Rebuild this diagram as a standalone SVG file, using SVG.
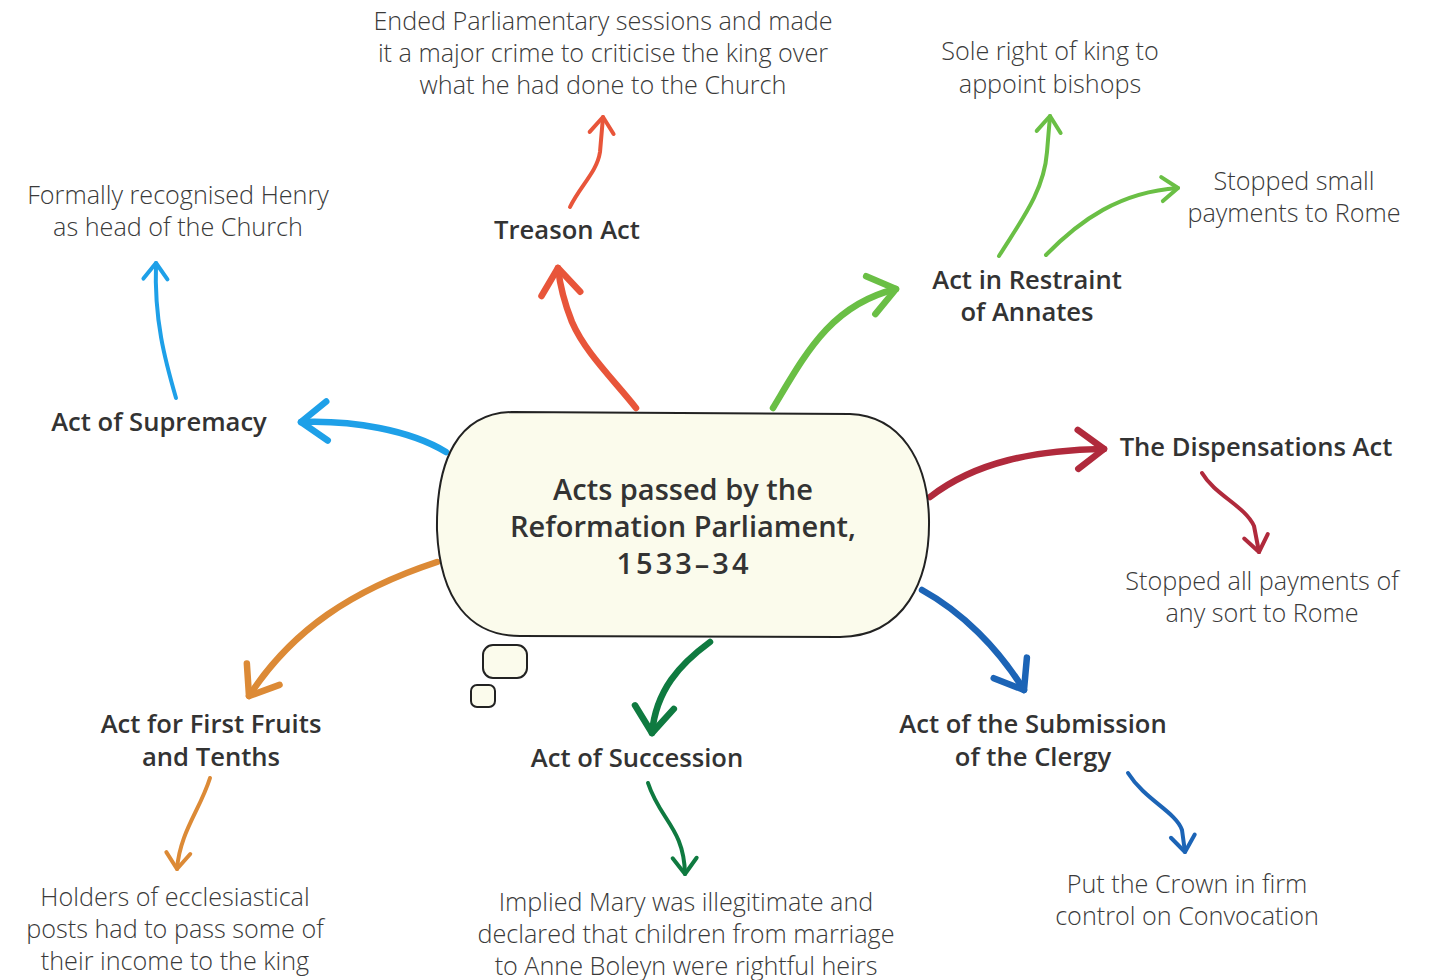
<svg xmlns="http://www.w3.org/2000/svg" width="1432" height="980" viewBox="0 0 1432 980">
  <style>
    .label { font-family: "Open Sans", "Liberation Sans", sans-serif; font-weight: 600; font-size: 25.6px; fill: #333; text-anchor: middle; }
    .note { font-family: "Open Sans", "Liberation Sans", sans-serif; font-weight: 300; font-size: 25.2px; fill: #3a3a3a; text-anchor: middle; }
    .title { font-family: "Open Sans", "Liberation Sans", sans-serif; font-weight: 600; font-size: 29px; fill: #333; text-anchor: middle; }
    .bubble { fill: #fbfbec; stroke: #222; stroke-width: 2; }
    .main { fill: none; stroke-width: 6.5; stroke-linecap: round; stroke-linejoin: round; }
    .sub { fill: none; stroke-width: 4; stroke-linecap: round; stroke-linejoin: round; }
    .head { fill: none; stroke-width: 1; stroke-linecap: round; stroke-linejoin: round; }
  </style>
  <defs>
    <marker id="h-red" markerUnits="strokeWidth" markerWidth="8" markerHeight="8" refX="0" refY="0" orient="auto" overflow="visible"><path class="head" d="M-4,-3 L0,0 L-4,3" stroke="#e8553a"/></marker>
    <marker id="h-lime" markerUnits="strokeWidth" markerWidth="8" markerHeight="8" refX="0" refY="0" orient="auto" overflow="visible"><path class="head" d="M-4,-3 L0,0 L-4,3" stroke="#6abf45"/></marker>
    <marker id="h-wine" markerUnits="strokeWidth" markerWidth="8" markerHeight="8" refX="0" refY="0" orient="auto" overflow="visible"><path class="head" d="M-4,-3 L0,0 L-4,3" stroke="#b02a3c"/></marker>
    <marker id="h-blue" markerUnits="strokeWidth" markerWidth="8" markerHeight="8" refX="0" refY="0" orient="auto" overflow="visible"><path class="head" d="M-4,-3 L0,0 L-4,3" stroke="#1c64b6"/></marker>
    <marker id="h-green" markerUnits="strokeWidth" markerWidth="8" markerHeight="8" refX="0" refY="0" orient="auto" overflow="visible"><path class="head" d="M-4,-3 L0,0 L-4,3" stroke="#0f7a40"/></marker>
    <marker id="h-orange" markerUnits="strokeWidth" markerWidth="8" markerHeight="8" refX="0" refY="0" orient="auto" overflow="visible"><path class="head" d="M-4,-3 L0,0 L-4,3" stroke="#dc8a36"/></marker>
    <marker id="h-sky" markerUnits="strokeWidth" markerWidth="8" markerHeight="8" refX="0" refY="0" orient="auto" overflow="visible"><path class="head" d="M-4,-3 L0,0 L-4,3" stroke="#1ea0e8"/></marker>
  </defs>

  <rect width="1432" height="980" fill="#ffffff"/>

  <!-- connectors -->
  <g id="connectors">
    <path class="main" stroke="#e8553a" marker-end="url(#h-red)" d="M636,408 C612,378 585,352 572,322 C564,302 560,286 558,268"/>
    <path class="sub" stroke="#e8553a" marker-end="url(#h-red)" d="M570,207 C580,186 597,172 600,152 L603,117"/>
    <path class="main" stroke="#6abf45" marker-end="url(#h-lime)" d="M773,408 C805,355 830,305 896,289"/>
    <path class="sub" stroke="#6abf45" marker-end="url(#h-lime)" d="M999,256 C1020,222 1044,192 1047,152 L1050,116"/>
    <path class="sub" stroke="#6abf45" marker-end="url(#h-lime)" d="M1046,255 C1080,220 1120,192 1178,188"/>
    <path class="main" stroke="#b02a3c" marker-end="url(#h-wine)" d="M930,497 C975,462 1035,450 1104,449"/>
    <path class="sub" stroke="#b02a3c" marker-end="url(#h-wine)" d="M1202,473 C1215,495 1245,506 1254,526 L1259,552"/>
    <path class="main" stroke="#1c64b6" marker-end="url(#h-blue)" d="M922,590 C962,612 998,648 1024,690"/>
    <path class="sub" stroke="#1c64b6" marker-end="url(#h-blue)" d="M1128,773 C1145,800 1176,812 1182,830 L1185,852"/>
    <path class="main" stroke="#0f7a40" marker-end="url(#h-green)" d="M710,642 C680,664 656,690 652,733"/>
    <path class="sub" stroke="#0f7a40" marker-end="url(#h-green)" d="M648,783 C660,820 684,828 685,874"/>
    <path class="main" stroke="#dc8a36" marker-end="url(#h-orange)" d="M437,562 C352,590 292,630 249,696"/>
    <path class="sub" stroke="#dc8a36" marker-end="url(#h-orange)" d="M210,778 C200,810 180,832 177,869"/>
    <path class="main" stroke="#1ea0e8" marker-end="url(#h-sky)" d="M446,452 C410,430 352,420 301,422"/>
    <path class="sub" stroke="#1ea0e8" marker-end="url(#h-sky)" d="M176,398 C165,360 154,320 156,263"/>
  </g>

  <!-- central thought bubble -->
  <g id="centre">
    <path class="bubble" d="M512,412 L850,414 C900,416 928,460 929,520 C930,580 905,636 840,637 L520,636 C470,636 440,600 437,530 C436,460 458,413 512,412 Z"/>
    <rect class="bubble" x="483" y="645" width="44" height="33" rx="10"/>
    <rect class="bubble" x="471" y="685" width="24" height="22" rx="6"/>
    <text class="title" x="683" y="500">Acts passed by the<tspan x="683" dy="37">Reformation Parliament,</tspan><tspan x="684" dy="37" letter-spacing="3">1533–34</tspan></text>
  </g>

  <g id="treason">
    <text class="label" x="567" y="239">Treason Act</text>
    <text class="note" x="603" y="30">Ended Parliamentary sessions and made<tspan x="603" dy="32">it a major crime to criticise the king over</tspan><tspan x="603" dy="32">what he had done to the Church</tspan></text>
  </g>

  <g id="annates">
    <text class="label" x="1027" y="289">Act in Restraint<tspan x="1027" dy="32">of Annates</tspan></text>
    <text class="note" x="1050" y="60">Sole right of king to<tspan x="1050" dy="33">appoint bishops</tspan></text>
    <text class="note" x="1294" y="190">Stopped small<tspan x="1294" dy="32">payments to Rome</tspan></text>
  </g>

  <g id="dispensations">
    <text class="label" x="1256" y="456">The Dispensations Act</text>
    <text class="note" x="1262" y="590">Stopped all payments of<tspan x="1262" dy="32">any sort to Rome</tspan></text>
  </g>

  <g id="submission">
    <text class="label" x="1033" y="733">Act of the Submission<tspan x="1033" dy="33">of the Clergy</tspan></text>
    <text class="note" x="1187" y="893">Put the Crown in firm<tspan x="1187" dy="32">control on Convocation</tspan></text>
  </g>

  <g id="succession">
    <text class="label" x="637" y="767">Act of Succession</text>
    <text class="note" x="686" y="911">Implied Mary was illegitimate and<tspan x="686" dy="32">declared that children from marriage</tspan><tspan x="686" dy="32">to Anne Boleyn were rightful heirs</tspan></text>
  </g>

  <g id="first-fruits">
    <text class="label" x="211" y="733">Act for First Fruits<tspan x="211" dy="33">and Tenths</tspan></text>
    <text class="note" x="175" y="906">Holders of ecclesiastical<tspan x="175" dy="32">posts had to pass some of</tspan><tspan x="175" dy="32">their income to the king</tspan></text>
  </g>

  <g id="supremacy">
    <text class="label" x="159" y="431">Act of Supremacy</text>
    <text class="note" x="178" y="204">Formally recognised Henry<tspan x="178" dy="32">as head of the Church</tspan></text>
  </g>
</svg>
